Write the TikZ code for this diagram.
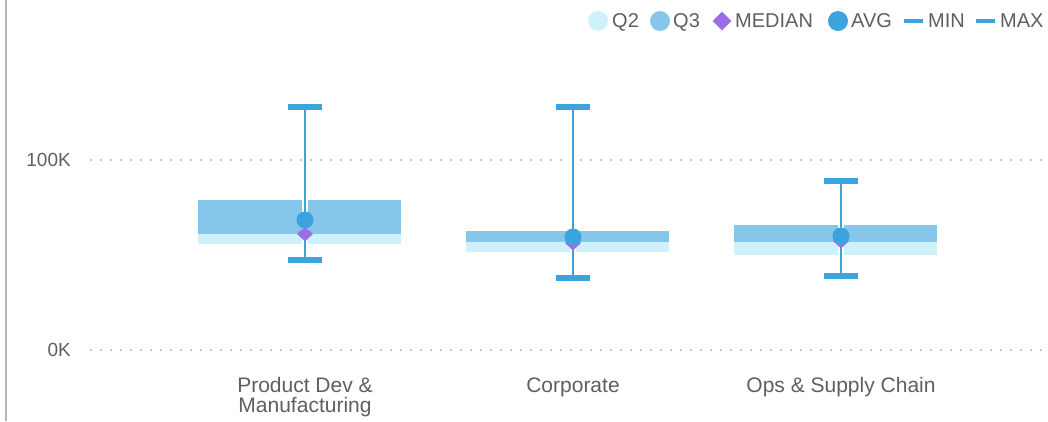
\documentclass[tikz,border=0pt]{standalone}
\usepackage{fontspec}
\setmainfont{Liberation Sans}
\usetikzlibrary{shapes.geometric}
\definecolor{q2c}{HTML}{CFF1FA}
\definecolor{q3c}{HTML}{87C6EB}
\definecolor{medc}{HTML}{9B6DE8}
\definecolor{avgc}{HTML}{3BA3DE}
\definecolor{txtc}{HTML}{5F5F5F}
\definecolor{gridc}{HTML}{C8C8C8}
\definecolor{axc}{HTML}{B5B5B5}
\tikzset{
  q2box/.style={fill=q2c},
  q3box/.style={fill=q3c},
  halo/.style={draw=white, line width=6pt},
  whisk/.style={draw=avgc, line width=2.5pt},
  capbar/.style={draw=avgc, line width=6pt},
  avgdot/.style={circle, fill=avgc, minimum size=17pt, inner sep=0pt},
  meddia/.style={diamond, aspect=1, fill=medc, minimum width=16pt, minimum height=15pt, inner sep=0pt},
  catlab/.style={text=txtc, font=\fontsize{21}{20}\selectfont, anchor=base, align=center},
  ylab/.style={text=txtc, font=\fontsize{19}{20}\selectfont, anchor=base east, inner sep=0pt},
  leglab/.style={text=txtc, font=\fontsize{20}{22}\selectfont, anchor=base west, inner sep=0pt},
  gridln/.style={draw=gridc, line width=2pt, dash pattern=on 2pt off 8pt},
  legdot/.style={circle, minimum size=20pt, inner sep=0pt},
  legline/.style={draw=avgc, line width=4pt}
}
\begin{document}
\begin{tikzpicture}[x=1pt,y=-1pt]
\useasboundingbox (0,0) rectangle (1048,421);
% left axis line
\coordinate (axtop) at (6,0);
\coordinate (axbot) at (6,421);
\draw[draw=axc, line width=2pt] (axtop) -- (axbot);
% gridlines
\coordinate (g100a) at (90,160);
\coordinate (g100b) at (1043,160);
\coordinate (g0a) at (90,350);
\coordinate (g0b) at (1043,350);
\draw[gridln] (g100a) -- (g100b);
\draw[gridln] (g0a) -- (g0b);
\node[ylab] (y100) at (71,166.5) {100K};
\node[ylab] (y0) at (71,356) {0K};
% box 1
\fill[q3box] (198,200) rectangle (401,234);
\fill[q2box] (198,234) rectangle (401,244);
% box 2
\fill[q3box] (466,231) rectangle (669,242);
\fill[q2box] (466,242) rectangle (669,252);
% box 3
\fill[q3box] (734,225) rectangle (937,242);
\fill[q2box] (734,242) rectangle (937,255);
% whiskers
\coordinate (t1) at (305,107); \coordinate (b1) at (305,260);
\coordinate (t2) at (573,107); \coordinate (b2) at (573,278);
\coordinate (t3) at (841,181); \coordinate (b3) at (841,276);
\foreach \i in {1,2,3}{
  \draw[halo] (t\i) -- (b\i);
  \draw[whisk] (t\i) -- (b\i);
  \draw[capbar] ([xshift=-17pt]t\i) -- ([xshift=17pt]t\i);
  \draw[capbar] ([xshift=-17pt]b\i) -- ([xshift=17pt]b\i);
}
% medians and averages
\node[meddia] (med1) at (305,234) {};
\node[meddia] (med2) at (573,243) {};
\node[meddia] (med3) at (841,241) {};
\node[avgdot] (avg1) at (305,220) {};
\node[avgdot] (avg2) at (573,237) {};
\node[avgdot] (avg3) at (841,236) {};
% category labels
\node[catlab] (c1) at (305,392) {Product Dev \&};
\node[catlab] (c1b) at (305,412) {Manufacturing};
\node[catlab] (c2) at (573,392) {Corporate};
\node[catlab] (c3) at (841,392) {Ops \& Supply Chain};
% legend
\node[legdot, fill=q2c] (lq2) at (598,21) {};
\node[leglab] (tq2) at (612,27.3) {Q2};
\node[legdot, fill=q3c] (lq3) at (660,21) {};
\node[leglab] (tq3) at (673,27.3) {Q3};
\node[diamond, aspect=1, fill=medc, minimum width=19pt, minimum height=19pt, inner sep=0pt] (lmed) at (722,21) {};
\node[leglab] (tmed) at (735,27.3) {MEDIAN};
\node[legdot, fill=avgc] (lavg) at (838,21) {};
\node[leglab] (tavg) at (851,27.3) {AVG};
\coordinate (lmina) at (904,21); \coordinate (lminb) at (923,21);
\draw[legline] (lmina) -- (lminb);
\node[leglab] (tmin) at (928,27.3) {MIN};
\coordinate (lmaxa) at (976,21); \coordinate (lmaxb) at (995,21);
\draw[legline] (lmaxa) -- (lmaxb);
\node[leglab] (tmax) at (1000,27.3) {MAX};
\end{tikzpicture}
\end{document}
